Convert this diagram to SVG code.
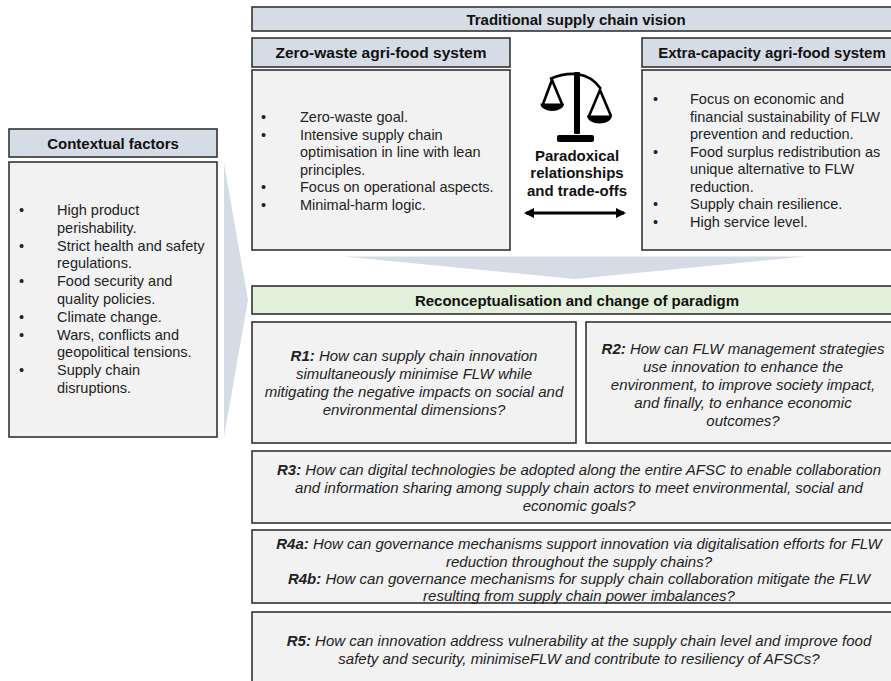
<svg xmlns="http://www.w3.org/2000/svg" width="891" height="681" viewBox="0 0 891 681">
<style>
  .hdr { fill: #d6dce5; stroke: #333; stroke-width: 1.6; }
  .body { fill: #f2f2f2; stroke: #333; stroke-width: 1.6; }
  .green { fill: #e2efda; stroke: #333; stroke-width: 1.6; }
  .ht { font-family: "Liberation Sans", Arial, sans-serif; font-size: 15px; font-weight: bold; fill: #111; text-anchor: middle; }
  .bt { font-family: "Liberation Sans", Arial, sans-serif; font-size: 14.5px; fill: #222; }
  .rt { font-family: "Liberation Sans", Arial, sans-serif; font-size: 15px; font-style: italic; fill: #222; text-anchor: middle; }
  .rt tspan.b { font-weight: bold; }
  .flow { fill: #d6dce5; }
  .icon { fill: #000; }
  .str { fill: none; stroke: #000; stroke-width: 2.6; stroke-linejoin: round; }
</style>
<defs>
  <marker id="ah" viewBox="0 0 10 10" refX="8" refY="5" markerWidth="3.2" markerHeight="3.2" orient="auto-start-reverse">
    <path d="M0,0 L10,5 L0,10 z" fill="#000"/>
  </marker>
</defs>
<rect width="891" height="681" fill="#fff"/>

<g id="connectors">
  <polygon class="flow" points="224,163 248,300 224,437"/>
  <polygon class="flow" points="344,256.5 806,256.5 575,279"/>
  <line x1="526" y1="213" x2="624" y2="213" stroke="#000" stroke-width="3.2" marker-start="url(#ah)" marker-end="url(#ah)"/>
</g>

<g id="traditional">
  <rect class="hdr" x="252" y="7" width="660" height="24"/>
  <text class="ht" x="576" y="24.5">Traditional supply chain vision</text>
</g>

<g id="zero-waste">
  <rect class="hdr" x="252" y="38" width="258" height="29"/>
  <text class="ht" x="381" y="58" style="font-size:15.5px">Zero-waste agri-food system</text>
  <rect class="body" x="252" y="70" width="258" height="180"/>
  <g class="bt">
    <text x="261" y="122">•</text>
    <text x="261" y="139.5">•</text>
    <text x="261" y="192">•</text>
    <text x="261" y="209.5">•</text>
    <text x="300" y="122">Zero-waste goal.</text>
    <text x="300" y="139.5">Intensive supply chain</text>
    <text x="300" y="157">optimisation in line with lean</text>
    <text x="300" y="174.5">principles.</text>
    <text x="300" y="192">Focus on operational aspects.</text>
    <text x="300" y="209.5">Minimal-harm logic.</text>
  </g>
</g>

<g id="paradox">
  <path class="str" d="M550,79 Q563,73 577,74 Q592,76 601,89" stroke-width="3.6"/>
  <rect class="icon" x="574" y="72" width="6" height="62" rx="1"/>
  <rect class="icon" x="557" y="135" width="37" height="7" rx="2"/>
  <polyline class="str" points="543,104 552,80 562,104"/>
  <path class="icon" d="M540.5,103.5 h23.5 a11.75,7.5 0 0 1 -23.5,0 z"/>
  <polyline class="str" points="589,116 600,90 611,116"/>
  <path class="icon" d="M587,115.5 h25 a12.5,8 0 0 1 -25,0 z"/>
  <text class="ht" x="577" y="160.5">Paradoxical</text>
  <text class="ht" x="577" y="178">relationships</text>
  <text class="ht" x="577" y="195.5">and trade-offs</text>
</g>

<g id="extra-capacity">
  <rect class="hdr" x="642" y="38" width="270" height="29"/>
  <text class="ht" x="772" y="58">Extra-capacity agri-food system</text>
  <rect class="body" x="642" y="70" width="270" height="180"/>
  <g class="bt">
    <text x="653" y="104">•</text>
    <text x="653" y="156.5">•</text>
    <text x="653" y="209">•</text>
    <text x="653" y="226.5">•</text>
    <text x="690" y="104">Focus on economic and</text>
    <text x="690" y="121.5">financial sustainability of FLW</text>
    <text x="690" y="139">prevention and reduction.</text>
    <text x="690" y="156.5">Food surplus redistribution as</text>
    <text x="690" y="174">unique alternative to FLW</text>
    <text x="690" y="191.5">reduction.</text>
    <text x="690" y="209">Supply chain resilience.</text>
    <text x="690" y="226.5">High service level.</text>
  </g>
</g>

<g id="contextual">
  <rect class="hdr" x="9" y="129" width="208" height="28"/>
  <text class="ht" x="113" y="148.5">Contextual factors</text>
  <rect class="body" x="9" y="162" width="208" height="275"/>
  <g class="bt">
    <text x="19" y="215">•</text>
    <text x="19" y="250.6">•</text>
    <text x="19" y="286.2">•</text>
    <text x="19" y="321.8">•</text>
    <text x="19" y="339.6">•</text>
    <text x="19" y="375.2">•</text>
    <text x="57" y="215">High product</text>
    <text x="57" y="232.8">perishability.</text>
    <text x="57" y="250.6">Strict health and safety</text>
    <text x="57" y="268.4">regulations.</text>
    <text x="57" y="286.2">Food security and</text>
    <text x="57" y="304">quality policies.</text>
    <text x="57" y="321.8">Climate change.</text>
    <text x="57" y="339.6">Wars, conflicts and</text>
    <text x="57" y="357.4">geopolitical tensions.</text>
    <text x="57" y="375.2">Supply chain</text>
    <text x="57" y="393">disruptions.</text>
  </g>
</g>

<g id="reconceptualisation">
  <rect class="green" x="252" y="286" width="660" height="28"/>
  <text class="ht" x="577" y="305.5">Reconceptualisation and change of paradigm</text>
</g>

<g id="r1">
  <rect class="body" x="252" y="322" width="324" height="121"/>
  <text class="rt" x="414" y="360.5"><tspan class="b">R1:</tspan> How can supply chain innovation</text>
  <text class="rt" x="414" y="378.5">simultaneously minimise FLW while</text>
  <text class="rt" x="414" y="396.5">mitigating the negative impacts on social and</text>
  <text class="rt" x="414" y="414.5">environmental dimensions?</text>
</g>

<g id="r2">
  <rect class="body" x="586" y="322" width="326" height="121"/>
  <text class="rt" x="743" y="353.5"><tspan class="b">R2:</tspan> How can FLW management strategies</text>
  <text class="rt" x="743" y="371.5">use innovation to enhance the</text>
  <text class="rt" x="743" y="389.5">environment, to improve society impact,</text>
  <text class="rt" x="743" y="407.5">and finally, to enhance economic</text>
  <text class="rt" x="743" y="425.5">outcomes?</text>
</g>

<g id="r3">
  <rect class="body" x="252" y="451" width="660" height="72"/>
  <text class="rt" x="579" y="474.5"><tspan class="b">R3:</tspan> How can digital technologies be adopted along the entire AFSC to enable collaboration</text>
  <text class="rt" x="579" y="492.5">and information sharing among supply chain actors to meet environmental, social and</text>
  <text class="rt" x="579" y="510.5">economic goals?</text>
</g>

<g id="r4">
  <rect class="body" x="252" y="530" width="660" height="73"/>
  <text class="rt" x="579" y="549"><tspan class="b">R4a:</tspan> How can governance mechanisms support innovation via digitalisation efforts for FLW</text>
  <text class="rt" x="579" y="566.5">reduction throughout the supply chains?</text>
  <text class="rt" x="579" y="584"><tspan class="b">R4b:</tspan> How can governance mechanisms for supply chain collaboration mitigate the FLW</text>
  <text class="rt" x="579" y="601">resulting from supply chain power imbalances?</text>
</g>

<g id="r5">
  <rect class="body" x="252" y="612" width="660" height="80"/>
  <text class="rt" x="579" y="645.5"><tspan class="b">R5:</tspan> How can innovation address vulnerability at the supply chain level and improve food</text>
  <text class="rt" x="579" y="663.5">safety and security, minimiseFLW and contribute to resiliency of AFSCs?</text>
</g>
</svg>
